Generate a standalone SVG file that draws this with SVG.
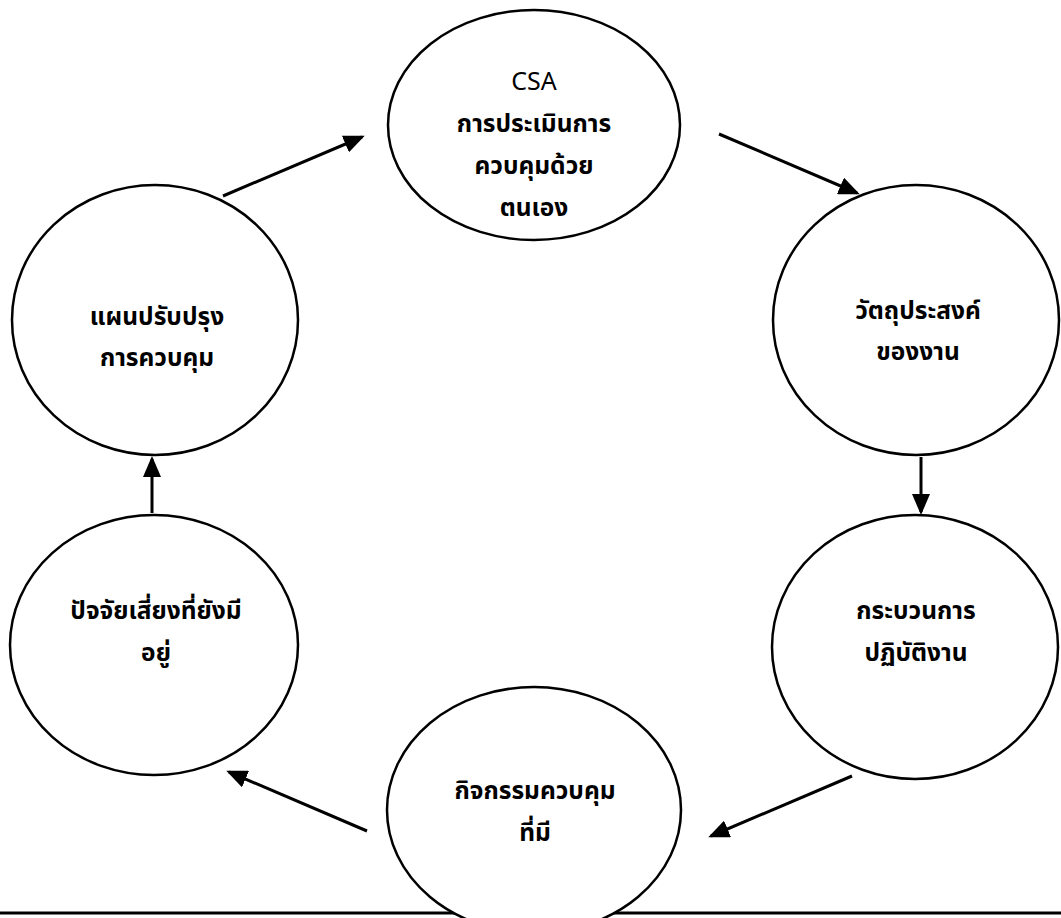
<svg xmlns="http://www.w3.org/2000/svg" width="1061" height="918" viewBox="0 0 1061 918">
<style>
.node{fill:#fff;stroke:#000;stroke-width:2.5}
.lbl{font-family:"Noto Sans Thai","Leelawadee UI","Tahoma","Noto Sans","DejaVu Sans",sans-serif;font-size:24.5px;font-weight:bold;text-anchor:middle;fill:#000}
.lat{font-weight:normal;font-size:25px}
.conn{stroke:#000;stroke-width:3;fill:none;marker-end:url(#ah)}
</style>
<defs>
<marker id="ah" markerWidth="7" markerHeight="6" refX="6" refY="3" orient="auto" markerUnits="strokeWidth">
<path d="M0,0 L7,3 L0,6 z" fill="#000"/>
</marker>
</defs>
<rect width="1061" height="918" fill="#fff"/>
<line x1="0" y1="913" x2="1061" y2="913" stroke="#000" stroke-width="3"/>
<g id="n-csa">
<ellipse class="node" cx="534" cy="125" rx="146" ry="115"/>
<text class="lbl lat" x="534" y="90">CSA</text>
<text class="lbl" x="534" y="132">การประเมินการ</text>
<text class="lbl" x="534" y="174">ควบคุมด้วย</text>
<text class="lbl" x="534" y="216">ตนเอง</text>
</g>
<g id="n-objective">
<ellipse class="node" cx="916" cy="320" rx="143" ry="135"/>
<text class="lbl" x="918" y="319">วัตถุประสงค์</text>
<text class="lbl" x="918" y="360">ของงาน</text>
</g>
<g id="n-process">
<ellipse class="node" cx="915" cy="647" rx="143" ry="132"/>
<text class="lbl" x="916" y="619">กระบวนการ</text>
<text class="lbl" x="916" y="661">ปฏิบัติงาน</text>
</g>
<g id="n-control">
<ellipse class="node" cx="534" cy="810" rx="147" ry="123"/>
<text class="lbl" x="535" y="799">กิจกรรมควบคุม</text>
<text class="lbl" x="535" y="841">ที่มี</text>
</g>
<g id="n-risk">
<ellipse class="node" cx="154" cy="645" rx="144" ry="130"/>
<text class="lbl" x="156" y="619">ปัจจัยเสี่ยงที่ยังมี</text>
<text class="lbl" x="156" y="661">อยู่</text>
</g>
<g id="n-plan">
<ellipse class="node" cx="155" cy="320" rx="143" ry="135"/>
<text class="lbl" x="157" y="325">แผนปรับปรุง</text>
<text class="lbl" x="157" y="366">การควบคุม</text>
</g>
<g id="connectors">
<line class="conn" x1="223" y1="196" x2="362" y2="137"/>
<line class="conn" x1="719" y1="134" x2="857" y2="193"/>
<line class="conn" x1="921" y1="457" x2="921" y2="512"/>
<line class="conn" x1="852" y1="776" x2="711" y2="836"/>
<line class="conn" x1="367" y1="831" x2="229" y2="772"/>
<line class="conn" x1="152" y1="513" x2="152" y2="459"/>
</g>
</svg>
